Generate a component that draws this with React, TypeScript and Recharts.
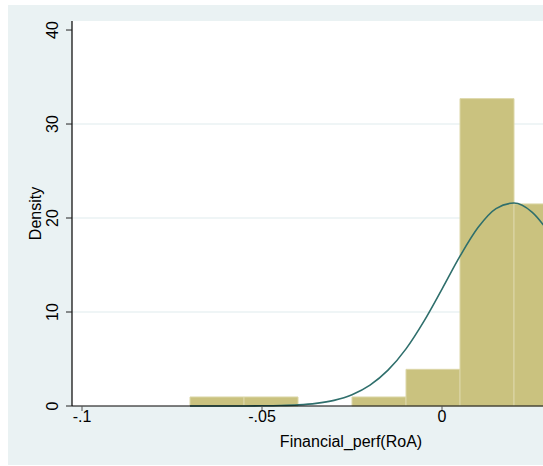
import React from 'react';
import { ComposedChart, Line, XAxis, YAxis, CartesianGrid, ReferenceArea, Label } from 'recharts';

// Histogram bins (RoA) and densities
const binStart = [-0.07, -0.055, -0.025, -0.01, 0.005, 0.02];
const binEnd = [-0.055, -0.04, -0.01, 0.005, 0.02, 0.035];
const binDensity = [0.96, 0.96, 0.96, 3.9, 32.7, 21.5];

// Normal density overlay
const curveX = [-0.07, -0.065, -0.06, -0.055, -0.05, -0.045, -0.04, -0.035, -0.03, -0.025, -0.02, -0.015, -0.01, -0.005, 0, 0.005, 0.01, 0.015, 0.02, 0.025, 0.03];
const curveDensity = [0.0002, 0.0006, 0.002, 0.0065, 0.019, 0.049, 0.12, 0.28, 0.6, 1.2, 2.22, 3.81, 6.08, 9.03, 12.44, 15.94, 18.98, 21.0, 21.59, 20.63, 18.32];

const xTicks = [-0.1, -0.05, 0];
const xTickLabels = ['-.1', '-.05', '0'];
const yTicks = [0, 10, 20, 30, 40];
const gridValues = [10, 20, 30];

const curveData = curveX.map((x, i) => ({ x, density: curveDensity[i] }));

const FONT = '"Liberation Sans", Arial, sans-serif';

const YTick = (props: any) => {
  const { x, y, payload } = props;
  return (
    <text
      transform={`translate(${x - 8},${y}) rotate(-90)`}
      textAnchor="middle"
      fontSize={16}
      fontFamily={FONT}
      fill="#000"
    >
      {payload.value}
    </text>
  );
};

const YTitle = (props: any) => {
  const vb = props.viewBox || { x: 0, y: 0, width: 0, height: 0 };
  const cx = vb.x + 33;
  const cy = vb.y + vb.height / 2;
  return (
    <text transform={`translate(${cx},${cy}) rotate(-90)`} textAnchor="middle" fontSize={16} fontFamily={FONT} fill="#000">
      Density
    </text>
  );
};

const XTitle = (props: any) => {
  const vb = props.viewBox || { x: 0, y: 0, width: 0, height: 0 };
  return (
    <text x={vb.x + vb.width / 2} y={vb.y + 41} textAnchor="middle" fontSize={16} fontFamily={FONT} fill="#000">
      Financial_perf(RoA)
    </text>
  );
};

export default function App() {
  return (
    <div
      style={{
        position: 'absolute',
        left: 8,
        top: 5,
        width: 535,
        height: 460,
        overflow: 'hidden',
        background: '#EAF2F3',
      }}
    >
      <ComposedChart
        width={640}
        height={460}
        data={curveData}
        margin={{ top: 16, right: 18, bottom: 0, left: 0 }}
      >
        <CartesianGrid
          fill="#ffffff"
          stroke="#EAF2F3"
          strokeWidth={1.5}
          vertical={false}
          horizontalValues={gridValues}
        />
        <XAxis
          dataKey="x"
          type="number"
          domain={[-0.10278, 0.05222]}
          allowDataOverflow
          ticks={xTicks}
          tickFormatter={(v: number) => xTickLabels[xTicks.indexOf(v)] ?? String(v)}
          height={59}
          tickSize={5}
          tickMargin={0}
          axisLine={{ stroke: '#000', strokeWidth: 1.2 }}
          tickLine={{ stroke: '#555' }}
          tick={{ fontSize: 16, fontFamily: FONT, fill: '#000' }}
        >
          <Label content={<XTitle />} />
        </XAxis>
        <YAxis
          type="number"
          domain={[0, 40.96]}
          ticks={yTicks}
          width={64}
          tickSize={6}
          tickMargin={0}
          axisLine={{ stroke: '#000', strokeWidth: 1.2 }}
          tickLine={{ stroke: '#222' }}
          tick={<YTick />}
        >
          <Label content={<YTitle />} />
        </YAxis>
        {binStart.map((s, i) => (
          <ReferenceArea
            key={i}
            x1={s}
            x2={binEnd[i]}
            y1={0}
            y2={binDensity[i]}
            fill="#CAC27F"
            fillOpacity={1}
            stroke="#DCD7A8"
            strokeWidth={1}
            ifOverflow="visible"
          />
        ))}
        <Line
          type="monotone"
          dataKey="density"
          stroke="#2F6F6C"
          strokeWidth={1.6}
          dot={false}
          isAnimationActive={false}
        />
      </ComposedChart>
    </div>
  );
}
